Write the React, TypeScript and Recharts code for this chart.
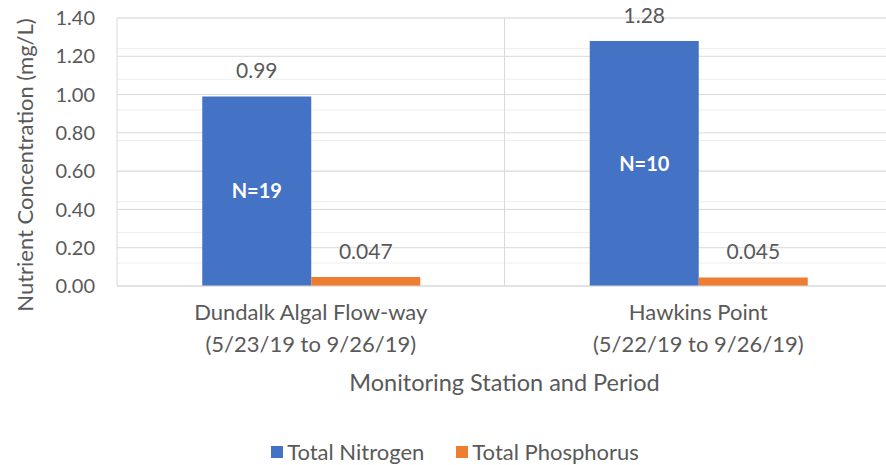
import { BarChart, Bar, XAxis, YAxis, CartesianGrid, Legend, LabelList, Label, ReferenceLine } from "recharts";

// Values.
const stations = ["Dundalk Algal Flow-way", "Hawkins Point"];
const periods = ["(5/23/19 to 9/26/19)", "(5/22/19 to 9/26/19)"];
const nitrogen = [0.99, 1.28];
const phosphorus = [0.047, 0.045];
const sampleCounts = [19, 10];
const yTicks = [0, 0.2, 0.4, 0.6, 0.8, 1.0, 1.2, 1.4];
const minorTicks = Array.from({ length: 36 }, (_, i) => +(i * 0.04).toFixed(2));

const C = {
  blue: "#4472C4",
  orange: "#ED7D31",
  text: "#595959",
  major: "#d9d9d9",
  minor: "#eeeeee",
};
const FONT = "Lato, 'Open Sans', sans-serif";

const data = stations.map((s, i) => ({
  station: s,
  period: periods[i],
  tn: nitrogen[i],
  tp: phosphorus[i],
  n: `N=${sampleCounts[i]}`,
}));

function StationTick({ x, y, payload, index }: any) {
  return (
    <text x={x} y={y} textAnchor="middle" fill={C.text} fontSize={22} fontFamily={FONT}>
      <tspan x={x} dy={28}>{payload.value}</tspan>
      <tspan x={x} dy={32}>{periods[index]}</tspan>
    </text>
  );
}

function LegendBox() {
  const item = (color: string, name: string, gap: number) => (
    <span style={{ display: "inline-flex", alignItems: "center", marginRight: gap }}>
      <span style={{ width: 12, height: 12, background: color, display: "inline-block", marginRight: 4 }} />
      <span>{name}</span>
    </span>
  );
  return (
    <div style={{ textAlign: "center", fontFamily: FONT, fontSize: 22, color: C.text, height: 30, lineHeight: "30px", paddingLeft: 18 }}>
      {item(C.blue, "Total Nitrogen", 32)}
      {item(C.orange, "Total Phosphorus", 0)}
    </div>
  );
}

export default function App() {
  return (
    <div style={{ position: "absolute", left: 0, top: 0, width: 886, height: 465, overflow: "hidden", background: "#fff" }}>
      <BarChart width={900} height={465} data={data} barCategoryGap="22%" barGap={0}
        margin={{ top: 18, right: 8, left: 0, bottom: 0 }}>
        <CartesianGrid vertical={false} horizontalValues={minorTicks} stroke={C.minor} />
        <CartesianGrid vertical={false} horizontalValues={yTicks} stroke={C.major} />
        <XAxis dataKey="station" tick={<StationTick />} tickLine={false} axisLine={{ stroke: C.major }}
          height={149} interval={0} tickMargin={0} tickSize={6}>
          <Label content={({ viewBox }: any) => (
            <text x={viewBox.x + viewBox.width / 2} y={383 + 8} textAnchor="middle" fill={C.text}
              fontSize={23.5} fontFamily={FONT}>Monitoring Station and Period</text>
          )} />
        </XAxis>
        <YAxis domain={[0, 1.4]} ticks={yTicks} width={117} axisLine={false} tickLine={false}
          tickSize={6} tickMargin={16} tickFormatter={(v: number) => v.toFixed(2)}
          tick={{ fill: C.text, fontSize: 20, fontFamily: FONT }}>
          <Label content={({ viewBox }: any) => {
            const cx = viewBox.x + 24;
            const cy = viewBox.y + viewBox.height / 2 + 13;
            return (
              <text x={cx} y={cy} transform={`rotate(-90 ${cx} ${cy})`} textAnchor="middle"
                dominantBaseline="central" fill={C.text} fontSize={22} fontFamily={FONT}>
                Nutrient Concentration (mg/L)
              </text>
            );
          }} />
        </YAxis>
        {/* category boundaries: plot left, between stations, plot right */}
        <ReferenceLine x={stations[0]} position="start" stroke={C.major} />
        <ReferenceLine x={stations[1]} position="start" stroke={C.major} />
        <ReferenceLine x={stations[1]} position="end" stroke={C.major} />
        <Legend verticalAlign="bottom" content={<LegendBox />} wrapperStyle={{ height: 30 }} />
        <Bar dataKey="tn" name="Total Nitrogen" fill={C.blue} isAnimationActive={false}>
          <LabelList dataKey="tn" position="top" offset={18} formatter={(v: number) => v.toFixed(2)}
            style={{ fill: C.text, fontSize: 21, fontFamily: FONT }} />
          <LabelList dataKey="n" position="center"
            style={{ fill: "#ffffff", fontSize: 20, fontWeight: 700, fontFamily: FONT }} />
        </Bar>
        <Bar dataKey="tp" name="Total Phosphorus" fill={C.orange} isAnimationActive={false}>
          <LabelList dataKey="tp" position="top" offset={18} formatter={(v: number) => v.toFixed(3)}
            style={{ fill: C.text, fontSize: 21, fontFamily: FONT }} />
        </Bar>
      </BarChart>
    </div>
  );
}
